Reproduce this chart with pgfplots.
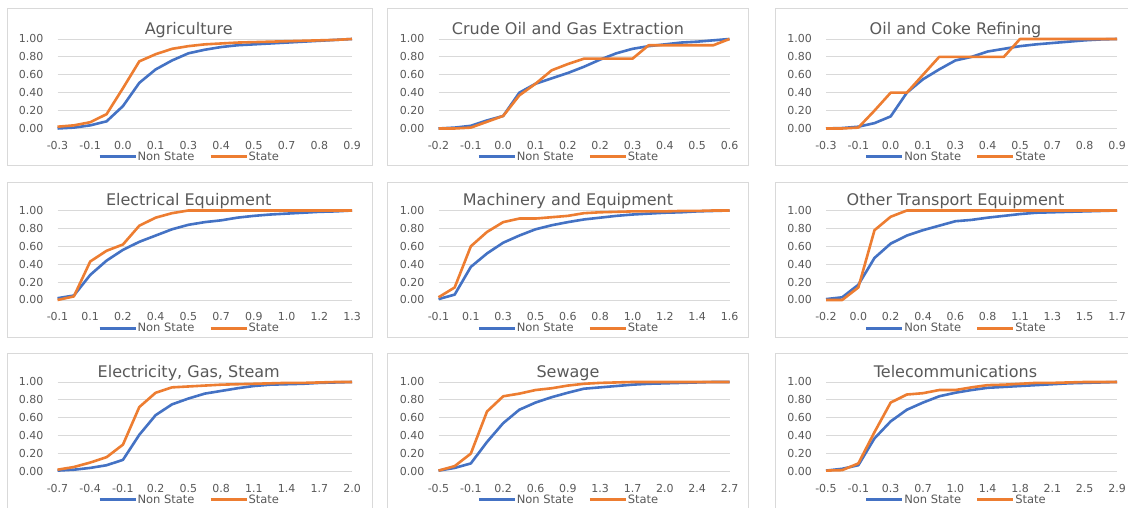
\documentclass[border=0pt]{standalone}
\usepackage{pgfplots}
\pgfplotsset{compat=1.18}
\usepackage{pgfplotstable}
\usepackage{fontspec}
\setmainfont{DejaVu Sans}
\definecolor{nsblue}{HTML}{4472C4}
\definecolor{storange}{HTML}{ED7D31}
\definecolor{gridgrey}{HTML}{D9D9D9}
\definecolor{txtgrey}{HTML}{595959}

\pgfplotstableread{
i ns st
0 0.00 0.02
1 0.01 0.035
2 0.035 0.07
3 0.08 0.16
4 0.25 0.45
5 0.51 0.75
6 0.66 0.83
7 0.76 0.89
8 0.84 0.92
9 0.88 0.94
10 0.91 0.95
11 0.93 0.96
12 0.94 0.965
13 0.95 0.97
14 0.96 0.975
15 0.97 0.98
16 0.98 0.985
17 0.99 0.99
18 1.00 1.00
}\agri

\pgfplotstableread{
i ns st
0 0.00 0.00
1 0.01 0.00
2 0.03 0.01
3 0.09 0.075
4 0.14 0.14
5 0.40 0.37
6 0.50 0.50
7 0.56 0.65
8 0.62 0.72
9 0.69 0.78
10 0.77 0.78
11 0.84 0.78
12 0.89 0.78
13 0.92 0.93
14 0.94 0.93
15 0.96 0.93
16 0.97 0.93
17 0.985 0.93
18 1.00 1.00
}\crude

\pgfplotstableread{
i ns st
0 0.00 0.00
1 0.005 0.00
2 0.02 0.01
3 0.06 0.20
4 0.135 0.40
5 0.40 0.40
6 0.55 0.60
7 0.66 0.80
8 0.76 0.80
9 0.80 0.80
10 0.86 0.80
11 0.89 0.80
12 0.92 1.00
13 0.94 1.00
14 0.955 1.00
15 0.97 1.00
16 0.985 1.00
17 0.995 1.00
18 1.00 1.00
}\oilcoke

\pgfplotstableread{
i ns st
0 0.02 0.00
1 0.05 0.04
2 0.28 0.43
3 0.44 0.55
4 0.56 0.62
5 0.65 0.83
6 0.72 0.92
7 0.79 0.97
8 0.84 1.00
9 0.87 1.00
10 0.89 1.00
11 0.92 1.00
12 0.94 1.00
13 0.955 1.00
14 0.965 1.00
15 0.975 1.00
16 0.985 1.00
17 0.99 1.00
18 1.00 1.00
}\elec

\pgfplotstableread{
i ns st
0 0.01 0.03
1 0.06 0.14
2 0.37 0.60
3 0.52 0.76
4 0.64 0.87
5 0.72 0.91
6 0.79 0.91
7 0.835 0.925
8 0.87 0.94
9 0.90 0.97
10 0.92 0.98
11 0.94 0.985
12 0.955 0.99
13 0.965 0.99
14 0.975 0.99
15 0.98 0.995
16 0.99 0.995
17 0.995 1.00
18 1.00 1.00
}\mach

\pgfplotstableread{
i ns st
0 0.01 0.00
1 0.03 0.00
2 0.17 0.14
3 0.47 0.78
4 0.63 0.93
5 0.72 1.00
6 0.78 1.00
7 0.83 1.00
8 0.88 1.00
9 0.895 1.00
10 0.92 1.00
11 0.94 1.00
12 0.96 1.00
13 0.975 1.00
14 0.98 1.00
15 0.985 1.00
16 0.99 1.00
17 0.995 1.00
18 1.00 1.00
}\transp

\pgfplotstableread{
i ns st
0 0.01 0.02
1 0.02 0.05
2 0.04 0.10
3 0.07 0.16
4 0.13 0.30
5 0.41 0.72
6 0.63 0.88
7 0.75 0.94
8 0.815 0.95
9 0.87 0.96
10 0.90 0.97
11 0.93 0.975
12 0.955 0.98
13 0.97 0.985
14 0.975 0.99
15 0.98 0.99
16 0.99 0.995
17 0.995 1.00
18 1.00 1.00
}\egs

\pgfplotstableread{
i ns st
0 0.01 0.01
1 0.04 0.06
2 0.09 0.20
3 0.33 0.67
4 0.54 0.84
5 0.69 0.87
6 0.77 0.91
7 0.83 0.93
8 0.88 0.96
9 0.925 0.98
10 0.94 0.99
11 0.955 0.995
12 0.97 1.00
13 0.98 1.00
14 0.985 1.00
15 0.99 1.00
16 0.995 1.00
17 1.00 1.00
18 1.00 1.00
}\sewage

\pgfplotstableread{
i ns st
0 0.01 0.01
1 0.03 0.015
2 0.07 0.09
3 0.37 0.44
4 0.56 0.77
5 0.69 0.86
6 0.77 0.875
7 0.84 0.91
8 0.88 0.91
9 0.91 0.94
10 0.935 0.965
11 0.945 0.97
12 0.955 0.98
13 0.965 0.99
14 0.975 0.99
15 0.985 0.995
16 0.99 1.00
17 0.995 1.00
18 1.00 1.00
}\telecom

\pgfplotsset{
  panel/.style={
    scale only axis, height=89.5pt, anchor=south west,
    xmin=0, xmax=18, ymin=0, ymax=1, clip=false,
    axis line style={draw=none},
    ymajorgrids, grid style={gridgrey, line width=0.8pt},
    major tick length=0pt,
    xtick={0,2,...,18},
    ytick={0,0.2,0.4,0.6,0.8,1},
    yticklabels={0.00,0.20,0.40,0.60,0.80,1.00},
    tick label style={font=\fontsize{11}{13}\selectfont, text=txtgrey},
    yticklabel style={anchor=east, inner sep=0pt, xshift=-14pt},
    xticklabel style={anchor=base, inner sep=0pt, yshift=-21pt},
    title style={at={(0.5,1)}, anchor=base, yshift=-1.5pt, xshift=-16pt,
      font=\fontsize{16}{19}\selectfont, text=txtgrey, inner sep=0pt},
    legend style={at={(0.5,0)}, anchor=center, xshift=-16pt, yshift=-28.4pt,
      draw=none, fill=none, font=\fontsize{11.5}{13}\selectfont, text=txtgrey,
      inner sep=0pt, nodes={inner sep=0.5pt},
      /tikz/every even column/.append style={column sep=14pt}},
    legend columns=2,
    legend image code/.code={\draw[##1, line width=3pt] (0pt,0pt) -- (36pt,0pt);},
  },
  nsline/.style={nsblue, line width=2.6pt, line join=round, no markers},
  stline/.style={storange, line width=2.6pt, line join=round, no markers},
}

\begin{document}
\begin{tikzpicture}
\path[use as bounding box, clip] (0pt,0pt) rectangle (1128pt,508pt);
\fill[white] (0pt,0pt) rectangle (1128pt,508pt);
% chart boxes
\draw[gridgrey, line width=0.8pt] (7pt,343pt) rectangle (372pt,500pt);
\draw[gridgrey, line width=0.8pt] (387pt,343pt) rectangle (748pt,500pt);
\draw[gridgrey, line width=0.8pt] (775pt,343pt) rectangle (1140pt,500pt);
\draw[gridgrey, line width=0.8pt] (7pt,171pt) rectangle (372pt,326pt);
\draw[gridgrey, line width=0.8pt] (387pt,171pt) rectangle (748pt,326pt);
\draw[gridgrey, line width=0.8pt] (775pt,171pt) rectangle (1140pt,326pt);
\draw[gridgrey, line width=0.8pt] (7pt,-10pt) rectangle (372pt,155pt);
\draw[gridgrey, line width=0.8pt] (387pt,-10pt) rectangle (748pt,155pt);
\draw[gridgrey, line width=0.8pt] (775pt,-10pt) rectangle (1140pt,155pt);

% Row 1
\begin{axis}[panel, at={(57.5pt,379.5pt)}, width=294.5pt, title={Agriculture},
  xticklabels={-0.3,-0.1,0.0,0.1,0.3,0.4,0.5,0.7,0.8,0.9}]
\addplot[nsline] table[x=i,y=ns]{\agri}; \addlegendentry{Non State}
\addplot[stline] table[x=i,y=st]{\agri}; \addlegendentry{State}
\end{axis}
\begin{axis}[panel, at={(438.5pt,379.5pt)}, width=291pt, title={Crude Oil and Gas Extraction},
  xticklabels={-0.2,-0.1,0.0,0.1,0.2,0.2,0.3,0.4,0.5,0.6}]
\addplot[nsline] table[x=i,y=ns]{\crude}; \addlegendentry{Non State}
\addplot[stline] table[x=i,y=st]{\crude}; \addlegendentry{State}
\end{axis}
\begin{axis}[panel, at={(826pt,379.5pt)}, width=291pt, title={Oil and Coke Refining},
  xticklabels={-0.3,-0.1,0.0,0.1,0.3,0.4,0.5,0.7,0.8,0.9}]
\addplot[nsline] table[x=i,y=ns]{\oilcoke}; \addlegendentry{Non State}
\addplot[stline] table[x=i,y=st]{\oilcoke}; \addlegendentry{State}
\end{axis}

% Row 2
\begin{axis}[panel, at={(57.5pt,208pt)}, width=294.5pt, title={Electrical Equipment},
  xticklabels={-0.1,0.1,0.2,0.4,0.5,0.7,0.9,1.0,1.2,1.3}]
\addplot[nsline] table[x=i,y=ns]{\elec}; \addlegendentry{Non State}
\addplot[stline] table[x=i,y=st]{\elec}; \addlegendentry{State}
\end{axis}
\begin{axis}[panel, at={(438.5pt,208pt)}, width=291pt, title={Machinery and Equipment},
  xticklabels={-0.1,0.1,0.3,0.5,0.6,0.8,1.0,1.2,1.4,1.6}]
\addplot[nsline] table[x=i,y=ns]{\mach}; \addlegendentry{Non State}
\addplot[stline] table[x=i,y=st]{\mach}; \addlegendentry{State}
\end{axis}
\begin{axis}[panel, at={(826pt,208pt)}, width=291pt, title={Other Transport Equipment},
  xticklabels={-0.2,0.0,0.2,0.4,0.6,0.8,1.1,1.3,1.5,1.7}]
\addplot[nsline] table[x=i,y=ns]{\transp}; \addlegendentry{Non State}
\addplot[stline] table[x=i,y=st]{\transp}; \addlegendentry{State}
\end{axis}

% Row 3
\begin{axis}[panel, at={(57.5pt,36.5pt)}, width=294.5pt, title={Electricity, Gas, Steam},
  xticklabels={-0.7,-0.4,-0.1,0.2,0.5,0.8,1.1,1.4,1.7,2.0}]
\addplot[nsline] table[x=i,y=ns]{\egs}; \addlegendentry{Non State}
\addplot[stline] table[x=i,y=st]{\egs}; \addlegendentry{State}
\end{axis}
\begin{axis}[panel, at={(438.5pt,36.5pt)}, width=291pt, title={Sewage},
  xticklabels={-0.5,-0.1,0.2,0.6,0.9,1.3,1.7,2.0,2.4,2.7}]
\addplot[nsline] table[x=i,y=ns]{\sewage}; \addlegendentry{Non State}
\addplot[stline] table[x=i,y=st]{\sewage}; \addlegendentry{State}
\end{axis}
\begin{axis}[panel, at={(826pt,36.5pt)}, width=291pt, title={Telecommunications},
  xticklabels={-0.5,-0.1,0.3,0.7,1.0,1.4,1.8,2.1,2.5,2.9}]
\addplot[nsline] table[x=i,y=ns]{\telecom}; \addlegendentry{Non State}
\addplot[stline] table[x=i,y=st]{\telecom}; \addlegendentry{State}
\end{axis}
\end{tikzpicture}
\end{document}
